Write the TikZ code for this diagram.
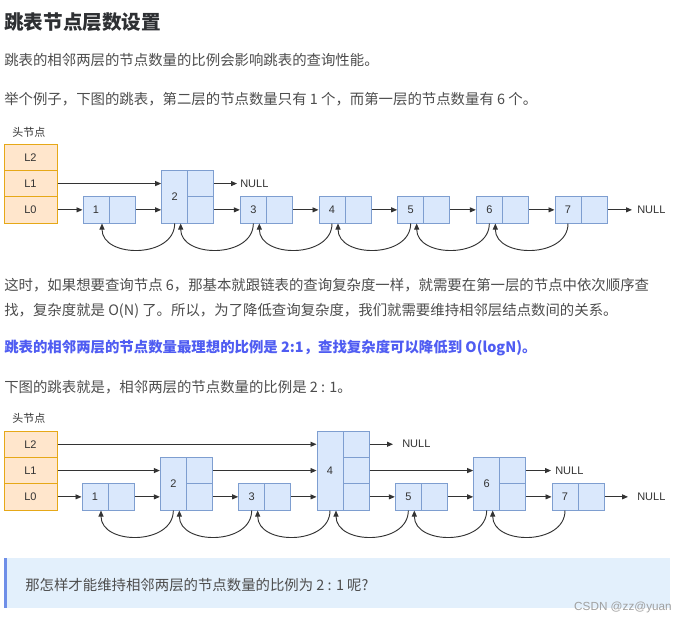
\documentclass[tikz,border=0pt]{standalone}
\usepackage{fontspec}
\setmainfont{Noto Sans CJK SC}
\newfontfamily\lblfont{Liberation Sans}
\usetikzlibrary{arrows.meta}
\definecolor{hdfill}{HTML}{FFE6CC}
\definecolor{hdline}{HTML}{E6A817}
\definecolor{ndfill}{HTML}{DAE8FC}
\definecolor{ndline}{HTML}{7E9ED0}
\definecolor{arr}{HTML}{333333}
\definecolor{txt}{HTML}{4D4D4D}
\definecolor{ttl}{HTML}{2E3033}
\definecolor{emph}{HTML}{4F5CF2}
\definecolor{qfill}{HTML}{E3F0FC}
\definecolor{qbar}{HTML}{6F8FE8}
\definecolor{wmark}{HTML}{A0A0A0}
\begin{document}
\begin{tikzpicture}[x=0.75pt,y=-0.75pt,
  headcell/.style={draw=hdline,fill=hdfill,line width=0.75pt,minimum width=39.75pt,minimum height=19.725pt,inner sep=0pt,font=\lblfont\fontsize{8.25}{10}\selectfont,text=arr},
  cell/.style={draw=ndline,fill=ndfill,line width=0.75pt,minimum width=19.5pt,minimum height=19.725pt,inner sep=0pt,font=\lblfont\fontsize{8.25}{10}\selectfont,text=arr},
  nullmark/.style={anchor=west,inner sep=0pt,font=\lblfont\fontsize{8.25}{10}\selectfont,text=arr},
  headtitle/.style={anchor=base west,inner sep=0pt,font=\fontsize{8.25}{10}\selectfont,text=arr},
  line/.style={anchor=base west,inner sep=0pt,font=\fontsize{10.8}{13}\selectfont,text=txt},
  link/.style={draw=arr,line width=0.7pt,-{Triangle[length=4.5pt,width=3.75pt]}},
  backlink/.style={link}]
\useasboundingbox (0,0) rectangle (688,622);
\fill[white] (0,0) rectangle (688,622);
\node[anchor=base west,inner sep=0pt,font=\fontsize{14.7}{17}\selectfont\bfseries,text=ttl] (title) at (4,29) {跳表节点层数设置};
\node[line] (t1) at (4,65) {跳表的相邻两层的节点数量的比例会影响跳表的查询性能。};
\node[line] (t2) at (4,104) {举个例子，下图的跳表，第二层的节点数量只有 1 个，而第一层的节点数量有 6 个。};
\node[headtitle] (ahead) at (12,136) {头节点};
\node[headcell] (aH2) at (30.5,157.25) {L2};
\node[headcell] (aH1) at (30.5,183.55) {L1};
\node[headcell] (aH0) at (30.5,209.85) {L0};
\node[cell] (a1v) at (96,209.85) {1};
\node[cell] (a1r0) at (122,209.85) {};
\node[cell,minimum height=39.45pt] (a2v) at (174.67,196.7) {2};
\node[cell] (a2r0) at (200.67,209.85) {};
\node[cell] (a2r1) at (200.67,183.55) {};
\node[cell] (a3v) at (253.33,209.85) {3};
\node[cell] (a3r0) at (279.33,209.85) {};
\node[cell] (a4v) at (332,209.85) {4};
\node[cell] (a4r0) at (358,209.85) {};
\node[cell] (a5v) at (410.67,209.85) {5};
\node[cell] (a5r0) at (436.67,209.85) {};
\node[cell] (a6v) at (489.33,209.85) {6};
\node[cell] (a6r0) at (515.33,209.85) {};
\node[cell] (a7v) at (568,209.85) {7};
\node[cell] (a7r0) at (594,209.85) {};
\node[nullmark] (aN1) at (240,183.55) {NULL};
\node[nullmark] (aN0) at (637,209.85) {NULL};
\draw[link](aH1.east) -- (aH1.east -| a2v.west);
\draw[link,shorten >=2.25pt](a2r1.east) -- (aN1.west);
\draw[link](aH0.east) -- (aH0.east -| a1v.west);
\draw[link](a1r0.east) -- (a1r0.east -| a2v.west);
\draw[link](a2r0.east) -- (a2r0.east -| a3v.west);
\draw[link](a3r0.east) -- (a3r0.east -| a4v.west);
\draw[link](a4r0.east) -- (a4r0.east -| a5v.west);
\draw[link](a5r0.east) -- (a5r0.east -| a6v.west);
\draw[link](a6r0.east) -- (a6r0.east -| a7v.west);
\draw[link,shorten >=3.75pt](a7r0.east) -- (aN0.west);
\draw[backlink](a2v.south) .. controls +(0,35) and +(0,35) .. ([xshift=4.5pt]a1v.south);
\draw[backlink](a3v.south) .. controls +(0,35) and +(0,35) .. ([xshift=4.5pt]a2v.south);
\draw[backlink](a4v.south) .. controls +(0,35) and +(0,35) .. ([xshift=4.5pt]a3v.south);
\draw[backlink](a5v.south) .. controls +(0,35) and +(0,35) .. ([xshift=4.5pt]a4v.south);
\draw[backlink](a6v.south) .. controls +(0,35) and +(0,35) .. ([xshift=4.5pt]a5v.south);
\draw[backlink](a7v.south) .. controls +(0,35) and +(0,35) .. ([xshift=4.5pt]a6v.south);
\node[line] (p1) at (4,290) {这时，如果想要查询节点 6，那基本就跟链表的查询复杂度一样，就需要在第一层的节点中依次顺序查};
\node[line] (p2) at (4,315.5) {找，复杂度就是 O(N) 了。所以，为了降低查询复杂度，我们就需要维持相邻层结点数间的关系。};
\node[line,font=\fontsize{10.8}{13}\selectfont\bfseries,text=emph] (p3) at (4,352) {跳表的相邻两层的节点数量最理想的比例是 2:1，查找复杂度可以降低到 O(logN)。};
\node[line] (p4) at (4,392) {下图的跳表就是，相邻两层的节点数量的比例是 2 : 1。};
\node[headtitle] (bhead) at (12,422) {头节点};
\node[headcell] (bH2) at (30.5,444.25) {L2};
\node[headcell] (bH1) at (30.5,470.55) {L1};
\node[headcell] (bH0) at (30.5,496.85) {L0};
\node[cell] (b1v) at (95,496.85) {1};
\node[cell] (b1r0) at (121,496.85) {};
\node[cell,minimum height=39.45pt] (b2v) at (173.33,483.7) {2};
\node[cell] (b2r0) at (199.33,496.85) {};
\node[cell] (b2r1) at (199.33,470.55) {};
\node[cell] (b3v) at (251.67,496.85) {3};
\node[cell] (b3r0) at (277.67,496.85) {};
\node[cell,minimum height=59.175pt] (b4v) at (330,470.55) {4};
\node[cell] (b4r0) at (356,496.85) {};
\node[cell] (b4r1) at (356,470.55) {};
\node[cell] (b4r2) at (356,444.25) {};
\node[cell] (b5v) at (408.33,496.85) {5};
\node[cell] (b5r0) at (434.33,496.85) {};
\node[cell,minimum height=39.45pt] (b6v) at (486.67,483.7) {6};
\node[cell] (b6r0) at (512.67,496.85) {};
\node[cell] (b6r1) at (512.67,470.55) {};
\node[cell] (b7v) at (565,496.85) {7};
\node[cell] (b7r0) at (591,496.85) {};
\node[nullmark] (bN2) at (402,444.25) {NULL};
\node[nullmark] (bN1) at (555,470.55) {NULL};
\node[nullmark] (bN0) at (637,496.85) {NULL};
\draw[link](bH2.east) -- (bH2.east -| b4v.west);
\draw[link,shorten >=6.75pt](b4r2.east) -- (bN2.west);
\draw[link](bH1.east) -- (bH1.east -| b2v.west);
\draw[link](b2r1.east) -- (b2r1.east -| b4v.west);
\draw[link](b4r1.east) -- (b4r1.east -| b6v.west);
\draw[link,shorten >=3pt](b6r1.east) -- (bN1.west);
\draw[link](bH0.east) -- (bH0.east -| b1v.west);
\draw[link](b1r0.east) -- (b1r0.east -| b2v.west);
\draw[link](b2r0.east) -- (b2r0.east -| b3v.west);
\draw[link](b3r0.east) -- (b3r0.east -| b4v.west);
\draw[link](b4r0.east) -- (b4r0.east -| b5v.west);
\draw[link](b5r0.east) -- (b5r0.east -| b6v.west);
\draw[link](b6r0.east) -- (b6r0.east -| b7v.west);
\draw[link,shorten >=6.75pt](b7r0.east) -- (bN0.west);
\draw[backlink](b2v.south) .. controls +(0,35) and +(0,35) .. ([xshift=4.5pt]b1v.south);
\draw[backlink](b3v.south) .. controls +(0,35) and +(0,35) .. ([xshift=4.5pt]b2v.south);
\draw[backlink](b4v.south) .. controls +(0,35) and +(0,35) .. ([xshift=4.5pt]b3v.south);
\draw[backlink](b5v.south) .. controls +(0,35) and +(0,35) .. ([xshift=4.5pt]b4v.south);
\draw[backlink](b6v.south) .. controls +(0,35) and +(0,35) .. ([xshift=4.5pt]b5v.south);
\draw[backlink](b7v.south) .. controls +(0,35) and +(0,35) .. ([xshift=4.5pt]b6v.south);
\fill[qfill] (4,558) rectangle (670,608);
\fill[qbar] (4,558) rectangle (6.5,608);
\node[line] (q) at (25,590) {那怎样才能维持相邻两层的节点数量的比例为 2 : 1 呢?};
\node[anchor=base east,inner sep=0pt,font=\lblfont\fontsize{8.8}{10}\selectfont,text=wmark] (wm) at (672,610) {CSDN @zz@yuan};
\end{tikzpicture}
\end{document}
